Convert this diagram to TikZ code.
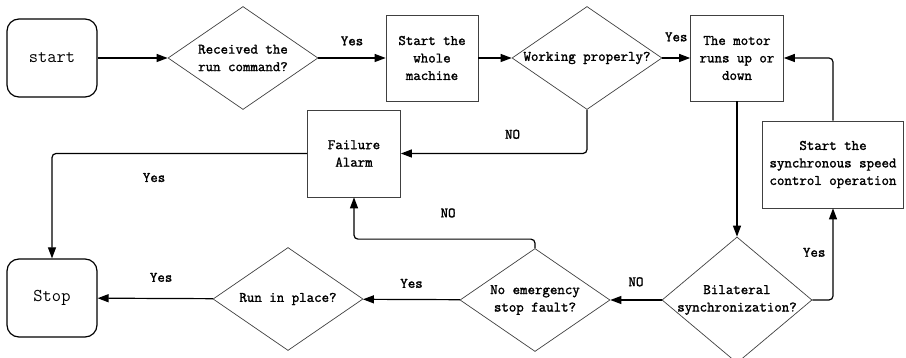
\documentclass[tikz,border=0pt]{standalone}
\usepackage{fontspec}
\newfontfamily\flowfont[FakeBold=1.6]{Latin Modern Mono}
\usetikzlibrary{positioning,arrows.meta,shapes.geometric}

\tikzset{
  terminal/.style={draw,line width=1.2pt,rounded corners=12pt,minimum width=90pt,minimum height=78pt,
    font=\ttfamily\fontsize{18}{22}\selectfont},
  procbox/.style={draw=black!75,line width=0.7pt,align=center,inner sep=1pt,minimum width=93pt,minimum height=86pt,
    font=\flowfont\fontsize{14.5}{17.5}\selectfont},
  decision/.style={diamond,draw=black!75,line width=0.7pt,align=center,inner sep=-6pt,aspect=1.45,
    minimum width=150pt,minimum height=103pt,font=\flowfont\fontsize{14.5}{17.5}\selectfont},
  flow/.style={-{Triangle[length=11pt,width=8pt]},line width=1.2pt},
  lbl/.style={inner sep=0pt,font=\flowfont\fontsize{14.5}{17}\selectfont}
}

\begin{document}
\begin{tikzpicture}[x=1pt,y=-1pt]
  \useasboundingbox (0,0) rectangle (906,358);
  % top row
  \node[terminal] (start) at (52,58) {start};
  \node[decision] (recv) at (243,58) {Received the\\run command?};
  \node[procbox,minimum width=92pt] (whole) at (432,58) {Start the\\whole\\machine};
  \node[decision] (work) at (587,58) {Working properly?};
  \node[procbox] (motor) at (737,58) {The motor\\runs up or\\down};
  % middle
  \node[procbox,minimum height=87pt] (fail) at (354,153.5) {Failure\\Alarm};
  \node[procbox,minimum width=141pt,minimum height=87pt] (sync) at (833,164.5) {Start the\\synchronous speed\\control operation};
  % bottom row
  \node[terminal] (stop) at (52,298) {Stop};
  \node[decision] (run) at (288,299) {Run in place?};
  \node[decision] (emerg) at (535,300) {No emergency\\stop fault?};
  \node[decision,aspect=1.19,minimum height=126pt] (bilat) at (737,300) {Bilateral\\synchronization?};

  \draw[flow] (start) -- (recv);
  \draw[flow] (recv) -- (whole) node[lbl,midway,above=12pt]{Yes};
  \draw[flow] (whole) -- (work);
  \draw[flow] (work) -- (motor) node[lbl,midway,above=16pt]{Yes};
  \draw[flow,rounded corners=4pt] (work.south) |- (fail.east) node[lbl,pos=0.7,above=14pt]{NO};
  \draw[flow,rounded corners=4pt] (fail.west) -| (stop.north) node[lbl,pos=0.3,below=19pt]{Yes};
  \draw[flow] (motor) -- (bilat);
  \draw[flow,rounded corners=4pt] (bilat.east) -| (sync.south) node[lbl,pos=0.76,left=7pt]{Yes};
  \draw[flow,rounded corners=4pt] (sync.north) |- (motor.east);
  \draw[flow] (bilat) -- (emerg) node[lbl,midway,above=13pt]{NO};
  \draw[flow,rounded corners=4pt] (emerg.north) -- ++(0,-9) -| (fail.south) node[lbl,pos=0.24,above=21pt]{NO};
  \draw[flow] (emerg) -- (run) node[lbl,midway,above=11pt]{Yes};
  \draw[flow] (run) -- (stop) node[lbl,pos=0.45,above=16pt]{Yes};
\end{tikzpicture}
\end{document}
